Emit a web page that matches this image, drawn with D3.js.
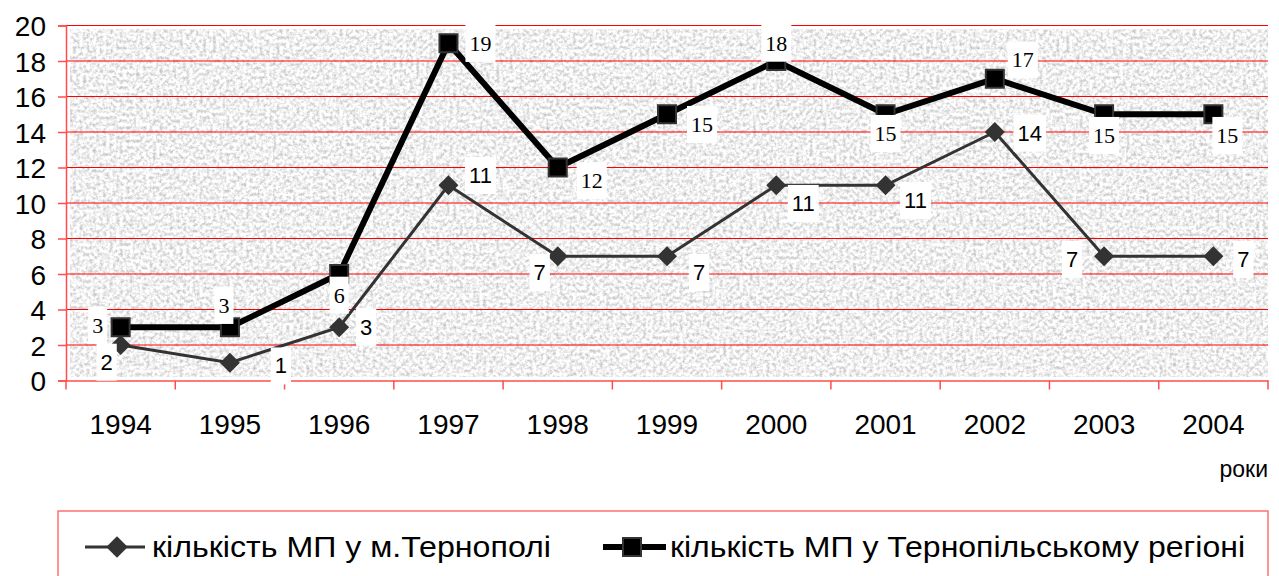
<!DOCTYPE html>
<html>
<head>
<meta charset="utf-8">
<script src="https://cdn.jsdelivr.net/npm/d3@7"></script>
<style>
  html, body { margin: 0; padding: 0; background: #fff; }
  svg { display: block; }
</style>
</head>
<body>
<svg id="chart" width="1279" height="576"></svg>
<script>
// ---- data ----
const years = ["1994","1995","1996","1997","1998","1999","2000","2001","2002","2003","2004"];
const cityValues = [2, 1, 3, 11, 7, 7, 11, 11, 14, 7, 7];
const regionValues = [3, 3, 6, 19, 12, 15, 18, 15, 17, 15, 15];
const yTicks = [0, 2, 4, 6, 8, 10, 12, 14, 16, 18, 20];
const cityName = "кількість МП у м.Тернополі";
const regionName = "кількість МП у Тернопільському регіоні";
const xAxisTitle = "роки";

// ---- label placement (layout, px offsets from point) ----
const cityLabelOffsets = [[-14,17],[51,3],[27,0],[32,-10],[-18,16],[32,16],[27,18],[30,15],[35,1],[-32,3],[30,3]];
const regionLabelOffsets = [[-23,-2],[-6,-22],[0,21],[32,0],[34,13],[35,10],[0,-18],[0,19],[28,-19],[0,21],[14,21]];

const svg = d3.select("#chart");
const pLeft = 66, pRight = 1268, pTop = 25.5, pBottom = 380.5;
const sans = "Liberation Sans, Arial, sans-serif";

const x = d3.scaleBand().domain(years).range([pLeft, pRight]).padding(0);
const y = d3.scaleLinear().domain([0, 20]).range([pBottom, pTop]);
const cx = d => x(d) + x.bandwidth() / 2;

// background noise texture
const defs = svg.append("defs");
const f = defs.append("filter").attr("id", "noise")
  .attr("x", 0).attr("y", 0).attr("width", "100%").attr("height", "100%")
  .attr("color-interpolation-filters", "sRGB");
f.append("feTurbulence").attr("type", "fractalNoise").attr("baseFrequency", 0.3)
  .attr("numOctaves", 3).attr("seed", 11).attr("result", "t");
f.append("feColorMatrix").attr("type", "matrix")
  .attr("values", "0.5 0 0 0 0.69  0.5 0 0 0 0.69  0.5 0 0 0 0.69  0 0 0 0 1");

svg.append("rect")
  .attr("x", pLeft + 4).attr("y", pTop + 3.5)
  .attr("width", pRight - pLeft - 4).attr("height", pBottom - pTop - 7)
  .attr("fill", "#ebebeb")
  .attr("filter", "url(#noise)");

// gridlines
svg.append("g").selectAll("line").data(yTicks.filter(t => t > 0))
  .join("line")
  .attr("x1", pLeft).attr("x2", pRight)
  .attr("y1", d => y(d)).attr("y2", d => y(d))
  .attr("stroke", "#ff0000").attr("stroke-width", 1.2);

// y axis
const yAxis = svg.append("g").attr("transform", `translate(${pLeft},0)`)
  .call(d3.axisLeft(y).tickValues(yTicks).tickSize(8).tickPadding(12));
yAxis.select(".domain").attr("stroke", "#ff4d4d").attr("stroke-width", 1.5);
yAxis.selectAll(".tick line").attr("stroke", "#ff4d4d").attr("stroke-width", 1.5);
yAxis.selectAll(".tick text").attr("font-family", sans)
  .attr("font-size", 28).attr("fill", "#000").attr("dy", "0.36em");

// x axis
const xAxis = svg.append("g").attr("transform", `translate(0,${pBottom})`)
  .call(d3.axisBottom(x).tickSize(0).tickPadding(0));
xAxis.select(".domain").attr("stroke", "#ff4d4d").attr("stroke-width", 1.5);
xAxis.selectAll(".tick text").attr("font-family", sans)
  .attr("font-size", 28).attr("fill", "#000").attr("y", 53).attr("dy", 0);
svg.append("g").selectAll("line").data(years.concat(["end"]))
  .join("line")
  .attr("x1", (d, i) => i < years.length ? x(d) : x(years[years.length - 1]) + x.bandwidth())
  .attr("x2", (d, i) => i < years.length ? x(d) : x(years[years.length - 1]) + x.bandwidth())
  .attr("y1", pBottom).attr("y2", pBottom + 9)
  .attr("stroke", "#ff4d4d").attr("stroke-width", 1.5);

// axis title
svg.append("text").attr("x", pRight).attr("y", 477).attr("text-anchor", "end")
  .attr("font-family", sans).attr("font-size", 23)
  .text(xAxisTitle);

// lines
const line = d3.line().x((d, i) => cx(years[i])).y(d => y(d));
svg.append("path").datum(cityValues).attr("d", line)
  .attr("fill", "none").attr("stroke", "#333").attr("stroke-width", 3);
svg.append("path").datum(regionValues).attr("d", line)
  .attr("fill", "none").attr("stroke", "#000").attr("stroke-width", 6)
  .attr("stroke-linejoin", "miter");

// markers
const diamond = d3.symbol().type(d3.symbolSquare).size(200);
svg.append("g").selectAll("path").data(cityValues).join("path")
  .attr("d", diamond())
  .attr("transform", (d, i) => `translate(${cx(years[i])},${y(d)}) rotate(45)`)
  .attr("fill", "#333");
svg.append("g").selectAll("rect").data(regionValues).join("rect")
  .attr("x", (d, i) => cx(years[i]) - 9).attr("y", d => y(d) - 9)
  .attr("width", 18).attr("height", 18)
  .attr("fill", "#000").attr("stroke", "#333").attr("stroke-width", 2);

// data labels with white boxes
function labels(values, offsets, family, size) {
  const g = svg.append("g");
  values.forEach((v, i) => {
    const lg = g.append("g");
    const t = lg.append("text")
      .attr("x", cx(years[i]) + offsets[i][0])
      .attr("y", y(v) + offsets[i][1])
      .attr("text-anchor", "middle").attr("dy", "0.35em")
      .attr("font-family", family).attr("font-size", size).attr("fill", "#000")
      .text(v);
    const b = t.node().getBBox();
    lg.insert("rect", "text")
      .attr("x", b.x - 4).attr("y", b.y - 6)
      .attr("width", b.width + 8).attr("height", b.height + 12)
      .attr("fill", "#fff");
  });
}
labels(cityValues, cityLabelOffsets, sans, 22);
labels(regionValues, regionLabelOffsets, "Liberation Serif, Times New Roman, serif", 22);

// legend
svg.append("rect").attr("x", 58).attr("y", 511).attr("width", 1210).attr("height", 90)
  .attr("fill", "#fff").attr("stroke", "#ff7070").attr("stroke-width", 1.5);
const lg1 = svg.append("g");
lg1.append("line").attr("x1", 85).attr("x2", 145).attr("y1", 547).attr("y2", 547)
  .attr("stroke", "#333").attr("stroke-width", 3);
lg1.append("path").attr("d", d3.symbol().type(d3.symbolSquare).size(230)())
  .attr("transform", "translate(117,547) rotate(45)").attr("fill", "#333");
lg1.append("text").attr("x", 152).attr("y", 557)
  .attr("font-family", sans).attr("font-size", 29)
  .attr("textLength", 399).attr("lengthAdjust", "spacingAndGlyphs")
  .text(cityName);
const lg2 = svg.append("g");
lg2.append("line").attr("x1", 603).attr("x2", 666).attr("y1", 547).attr("y2", 547)
  .attr("stroke", "#000").attr("stroke-width", 6);
lg2.append("rect").attr("x", 623).attr("y", 538).attr("width", 18).attr("height", 18)
  .attr("fill", "#000").attr("stroke", "#333").attr("stroke-width", 2);
lg2.append("text").attr("x", 670).attr("y", 557)
  .attr("font-family", sans).attr("font-size", 29)
  .attr("textLength", 575).attr("lengthAdjust", "spacingAndGlyphs")
  .text(regionName);
</script>
</body>
</html>
